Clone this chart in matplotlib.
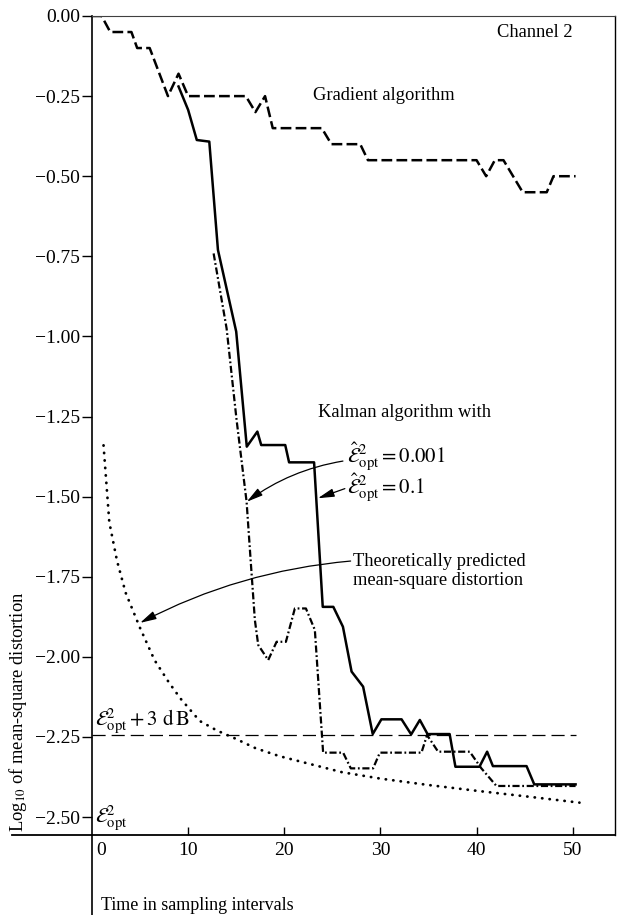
import matplotlib.pyplot as plt
from matplotlib.lines import Line2D

plt.rcParams['font.family'] = ['Liberation Serif', 'DejaVu Serif']
plt.rcParams['mathtext.fontset'] = 'stix'

# Gradient algorithm (dashed)
grad_t = [0, 1, 1.9, 4.1, 4.7, 6, 7.9, 9, 10, 16, 17, 18, 18.8, 23.9, 24.9,
          27.9, 28.7, 40, 41, 41.9, 42.8, 44.8, 47.3, 48, 50.3]
grad_v = [0, 0, -0.05, -0.05, -0.1, -0.1, -0.25, -0.18, -0.25, -0.25, -0.3,
          -0.25, -0.35, -0.35, -0.4, -0.4, -0.45, -0.45, -0.5, -0.45, -0.45,
          -0.55, -0.55, -0.5, -0.5]

# Kalman, E_opt^2 = 0.1 (solid)
kal1_t = [9.0, 10.0, 10.9, 12.2, 13.1, 15.0, 16.1, 17.2, 17.6, 20.1, 20.5,
          23.1, 24.0, 25.1, 26.1, 27.0, 28.2, 29.2, 30.1, 32.2, 33.2, 34.1,
          34.9, 37.2, 37.8, 40.3, 41.1, 41.7, 45.2, 46.0, 50.3]
kal1_v = [-0.22, -0.293, -0.387, -0.392, -0.73, -0.985, -1.344, -1.297,
          -1.339, -1.339, -1.393, -1.393, -1.844, -1.844, -1.906, -2.046,
          -2.093, -2.241, -2.195, -2.195, -2.242, -2.197, -2.241, -2.241,
          -2.343, -2.343, -2.296, -2.341, -2.341, -2.398, -2.398]

# Kalman, E_opt^2 = 0.001 (dash-dot)
kal2_t = [12.65, 14.0, 15.04, 16.08, 16.5, 16.94, 17.29, 18.33, 19.2, 20.17,
          21.1, 22.25, 23.18, 24.04, 26.12, 26.92, 29.24, 29.94, 34.27, 34.85,
          36.0, 39.29, 40.5, 42.07, 50.3]
kal2_v = [-0.741, -0.975, -1.261, -1.516, -1.698, -1.885, -1.963, -2.01,
          -1.953, -1.953, -1.849, -1.849, -1.916, -2.299, -2.299, -2.348,
          -2.348, -2.299, -2.299, -2.244, -2.296, -2.296, -2.348, -2.403,
          -2.403]

# Theoretically predicted mean-square distortion (dotted)
theory_t = [1.2, 1.8, 2.6, 3.5, 5.0, 6.5, 8.0, 9.2, 11.2, 13.0, 14.9, 17.0,
            19.5, 23.4, 26.0, 30.0, 35.0, 40.0, 45.0, 50.7]
theory_v = [-1.34, -1.58, -1.70, -1.80, -1.91, -2.01, -2.08, -2.13, -2.20,
            -2.23, -2.255, -2.285, -2.31, -2.34, -2.36, -2.38, -2.40, -2.418,
            -2.435, -2.455]

# E_opt^2 + 3 dB level
db3_t = [0, 50.3]
db3_v = [-2.244, -2.244]

ytick_vals = [0, -0.25, -0.5, -0.75, -1.0, -1.25, -1.5, -1.75, -2.0, -2.25, -2.5]
xtick_vals = [10, 20, 30, 40, 50]

W, H = 619, 915
fig = plt.figure(figsize=(W / 100, H / 100), dpi=100)
ax_l, ax_r, ax_t, ax_b = 92, 615, 16, 835
ax = fig.add_axes([ax_l / W, 1 - ax_b / H, (ax_r - ax_l) / W, (ax_b - ax_t) / H])

ax.plot(grad_t, grad_v, color='k', lw=1.8, linestyle=(0, (4.3, 1.7)))
ax.plot(kal1_t, kal1_v, color='k', lw=1.8)
ax.plot(kal2_t, kal2_v, color='k', lw=1.6, linestyle=(0, (3.2, 1.2, 0.8, 1.2)))
ax.plot(theory_t, theory_v, color='k', lw=2.0, linestyle=(0, (0.1, 2.6)),
        dash_capstyle='round')
ax.plot(db3_t, db3_v, color='k', lw=0.9, linestyle=(0, (10.5, 4.8)))

ax.set_xlim(0, 54.4)
ax.set_ylim(-2.556, 0)

ax.set_yticks(ytick_vals,
              labels=[f'{v:.2f}'.replace('-', '\u2212') for v in ytick_vals])
ax.set_xticks(xtick_vals, labels=[str(v) for v in xtick_vals])
ax.tick_params(axis='y', direction='out', length=7, width=1, pad=1.5, labelsize=14)
ax.tick_params(axis='x', direction='in', length=6, width=1, pad=5, labelsize=14)
ax.text(1.0, -0.0085, '0', transform=ax.get_xaxis_transform(),
        ha='center', va='top', fontsize=14)

ax.spines['left'].set_linewidth(1.2)
ax.spines['bottom'].set_linewidth(1.3)
ax.spines['top'].set_linewidth(0.8)
ax.spines['top'].set_color('0.25')
ax.spines['right'].set_linewidth(1.0)

# axis lines run past the frame, as in the original drawing
fig.add_artist(Line2D([ax_l / W, ax_l / W], [0, 1 - ax_b / H],
                      transform=fig.transFigure, color='k', lw=1.2))
fig.add_artist(Line2D([12 / W, ax_l / W], [1 - ax_b / H, 1 - ax_b / H],
                      transform=fig.transFigure, color='k', lw=1.3))

fs = 13.3
mfs = 15
ax.text(42.1, -0.053, 'Channel 2', fontsize=fs, va='center')
ax.text(22.97, -0.247, 'Gradient algorithm', fontsize=fs, va='center')
ax.text(23.5, -1.236, 'Kalman algorithm with', fontsize=fs, va='center')
ax.text(26.5, -1.395, r'$\hat{\mathcal{E}}^{2}_{\mathrm{opt}} = 0.001$',
        fontsize=mfs, va='baseline')
ax.text(26.5, -1.492, r'$\hat{\mathcal{E}}^{2}_{\mathrm{opt}} = 0.1$',
        fontsize=mfs, va='baseline')
ax.text(27.1, -1.704, 'Theoretically predicted', fontsize=fs, va='center')
ax.text(27.1, -1.763, 'mean-square distortion', fontsize=fs, va='center')
ax.text(0.3, -2.213, r'$\mathcal{E}^{2}_{\mathrm{opt}} + 3\ \mathrm{d\,B}$',
        fontsize=mfs, va='baseline')
ax.text(0.3, -2.516, r'$\mathcal{E}^{2}_{\mathrm{opt}}$', fontsize=mfs,
        va='baseline')

arrow = dict(arrowstyle='-|>,head_length=0.7,head_width=0.18', color='k',
             lw=0.9, shrinkA=0, shrinkB=0, mutation_scale=14)
ax.annotate('', xy=(16.1, -1.516), xytext=(26.1, -1.389),
            arrowprops=dict(arrow, connectionstyle='arc3,rad=0.12'))
ax.annotate('', xy=(23.5, -1.505), xytext=(26.3, -1.475),
            arrowprops=dict(arrow, connectionstyle='arc3,rad=0'))
ax.annotate('', xy=(5.0, -1.894), xytext=(26.9, -1.701),
            arrowprops=dict(arrow, connectionstyle='arc3,rad=0.1'))

fig.text(18 / W, 1 - 712 / H, r'Log$_{10}$ of mean-square distortion',
         rotation=90, ha='center', va='center', fontsize=fs)
fig.text(101 / W, 1 - 906 / H, 'Time in sampling intervals', fontsize=13,
         va='center')

fig.savefig('out.png', dpi=100)
